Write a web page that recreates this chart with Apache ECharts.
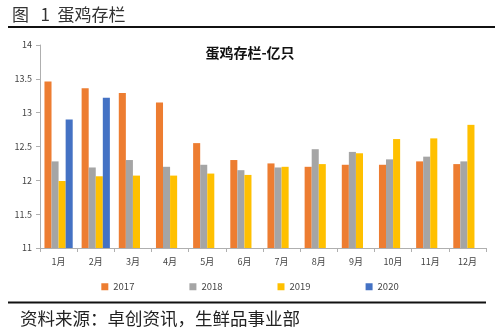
<!DOCTYPE html>
<html>
<head>
<meta charset="utf-8">
<script src="https://cdn.jsdelivr.net/npm/echarts@6/dist/echarts.min.js"></script>
<style>
  html, body { margin: 0; padding: 0; background: #fff; }
  #chart { width: 500px; height: 333px; }
</style>
</head>
<body>
<div id="chart"></div>
<script>
// Monthly laying-hen inventory (hundred million birds)
const months = ['1月', '2月', '3月', '4月', '5月', '6月', '7月', '8月', '9月', '10月', '11月', '12月'];
const yearNames = ['2017', '2018', '2019', '2020'];
const values2017 = [13.46, 13.36, 13.29, 13.15, 12.55, 12.30, 12.25, 12.20, 12.23, 12.23, 12.28, 12.24];
const values2018 = [12.28, 12.19, 12.30, 12.20, 12.23, 12.15, 12.19, 12.46, 12.42, 12.31, 12.35, 12.28];
const values2019 = [11.99, 12.06, 12.07, 12.07, 12.10, 12.08, 12.20, 12.24, 12.40, 12.61, 12.62, 12.82];
const values2020 = [12.90, 13.22, null, null, null, null, null, null, null, null, null, null];
const yTicks = [11, 11.5, 12, 12.5, 13, 13.5, 14];

const colors = ['#ED7D31', '#A5A5A5', '#FFC000', '#4472C4'];
const seriesValues = [values2017, values2018, values2019, values2020];
const font = '"Noto Sans CJK SC", "Noto Sans", sans-serif';

const chart = echarts.init(document.getElementById('chart'), null, { renderer: 'canvas' });

chart.setOption({
  animation: false,
  backgroundColor: '#fff',
  color: colors,
  title: [
    {
      text: '图   1  蛋鸡存栏',
      left: 7, top: 1,
      textStyle: { fontFamily: font, fontSize: 17, fontWeight: 'normal', color: '#333' }
    },
    {
      text: '蛋鸡存栏-亿只',
      left: 'center', top: 41,
      textStyle: { fontFamily: font, fontSize: 14, fontWeight: 'bold', color: '#111' }
    },
    {
      text: '资料来源：卓创资讯，生鲜品事业部',
      left: 15, top: 305,
      textStyle: { fontFamily: font, fontSize: 17.5, fontWeight: 'normal', color: '#222' }
    }
  ],
  graphic: [
    { type: 'line', shape: { x1: 8, y1: 27, x2: 495, y2: 27 }, style: { stroke: '#111', lineWidth: 2 } },
    { type: 'line', shape: { x1: 8, y1: 302.5, x2: 486, y2: 302.5 }, style: { stroke: '#111', lineWidth: 2 } }
  ],
  legend: {
    data: yearNames,
    top: 277,
    left: 'center',
    itemWidth: 7, itemHeight: 7,
    itemGap: 55,
    icon: 'rect',
    textStyle: { fontFamily: font, fontSize: 9.5, color: '#444' }
  },
  grid: { left: 40, right: 14, top: 45, bottom: 85 },
  xAxis: {
    type: 'category',
    data: months,
    axisLine: { lineStyle: { color: '#AFAFAF' } },
    axisTick: { show: true, alignWithLabel: false, length: 4, lineStyle: { color: '#AFAFAF' } },
    axisLabel: { fontFamily: font, fontSize: 9, color: '#444', margin: 9 }
  },
  yAxis: {
    type: 'value',
    min: yTicks[0], max: yTicks[yTicks.length - 1], interval: 0.5,
    axisLine: { show: true, lineStyle: { color: '#AFAFAF' } },
    axisTick: { show: true, length: 4, lineStyle: { color: '#AFAFAF' } },
    splitLine: { show: false },
    axisLabel: { fontFamily: font, fontSize: 9, color: '#444', margin: 8 }
  },
  series: yearNames.map((name, i) => ({
    name: name,
    type: 'bar',
    data: seriesValues[i],
    barGap: '0%',
    barCategoryGap: '24%',
    itemStyle: { color: colors[i] }
  }))
});
</script>
</body>
</html>
